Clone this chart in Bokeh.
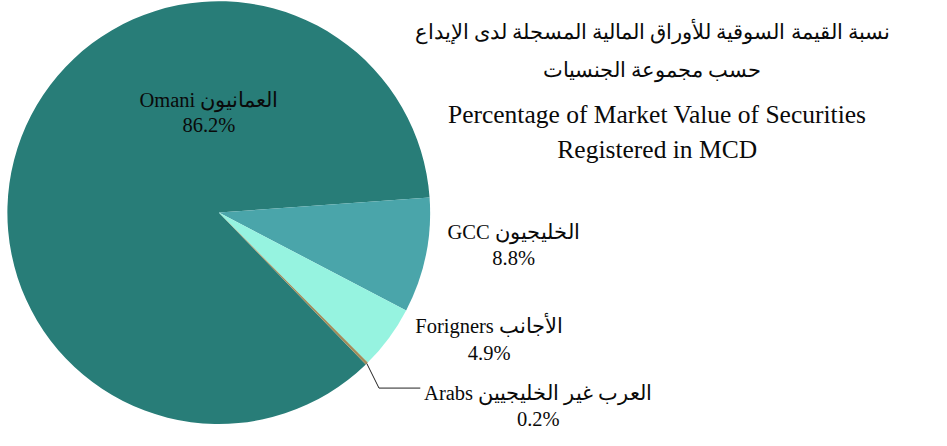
import math
from bokeh.plotting import figure
from bokeh.models import Range1d, ColumnDataSource
from bokeh.core.properties import value
from bokeh.embed import file_html
from bokeh.resources import INLINE

# ---- data ----
labels_en = ["Omani", "GCC", "Forigners", "Arabs"]
labels_ar = ["العمانيون", "الخليجيون", "الأجانب", "العرب غير الخليجيين"]
percents = [86.2, 8.8, 4.9, 0.2]
colors = ["#287d78", "#4aa5aa", "#96f3e0", "#a08c5a"]
title_ar = ["نسبة القيمة السوقية للأوراق المالية المسجلة لدى الإيداع", "حسب مجموعة الجنسيات"]
title_en = ["Percentage of Market Value of Securities", "Registered in MCD"]

# ---- layout (reference pixel coordinates, y flipped) ----
W, H = 931, 430
RW, RH = 947, 446
sx, sy = W / RW, H / RH
def Y(py):
    return RH - py

cx, cy, r = 222, Y(220), 215
start_deg = -45.9  # first slice starts here, going clockwise

total = sum(percents)
starts, ends = [], []
a = math.radians(start_deg)
for v in percents:
    sweep = 2 * math.pi * v / total
    starts.append(a)
    ends.append(a - sweep)
    a -= sweep

p = figure(width=W, height=H, output_backend="svg", toolbar_location=None,
           x_range=Range1d(0, RW), y_range=Range1d(0, RH),
           min_border=0, outline_line_color=None)
p.axis.visible = False
p.grid.visible = False
p.background_fill_color = "white"
p.border_fill_color = "white"

src = ColumnDataSource(dict(start=starts, end=ends, color=colors))
p.wedge(x=cx, y=cy, radius=r, start_angle="start", end_angle="end",
        direction="clock", fill_color="color", line_color=None, source=src)

# label positions (layout)
label_pos = [(212, 103, 129), (522, 240, 267), (497, 338, 366), (547, 407, 434)]
font = value("Liberation Serif")
for en, ar, pc, (lx, ly1, ly2) in zip(labels_en, labels_ar, percents, label_pos):
    first = f"{en} {ar}"
    p.text(x=[lx], y=[Y(ly1)], text=[first], text_font=font, text_font_size="20.5px",
           text_align="center", text_baseline="middle", text_color="#0a0a0a")
    p.text(x=[lx], y=[Y(ly2)], text=[f"{pc}%"], text_font=font, text_font_size="20.5px",
           text_align="center", text_baseline="middle", text_color="#0a0a0a")

# connector for the small slice
mid = (starts[3] + ends[3]) / 2
ex = cx + r * math.cos(mid)
ey = cy + r * math.sin(mid) * sx / sy
p.line(x=[ex, 385, 427], y=[ey, Y(402), Y(402)], line_color="#222222", line_width=1)

# titles
for txt, ty in zip(title_ar, [33, 72]):
    p.text(x=[663], y=[Y(ty)], text=[txt], text_font=font, text_font_size="20.5px",
           text_align="center", text_baseline="middle", text_color="#0a0a0a")
for txt, ty in zip(title_en, [118, 155]):
    p.text(x=[668], y=[Y(ty)], text=[txt], text_font=font, text_font_size="25.5px",
           text_align="center", text_baseline="middle", text_color="#0a0a0a")

open("out.html", "w").write(file_html(p, INLINE))
